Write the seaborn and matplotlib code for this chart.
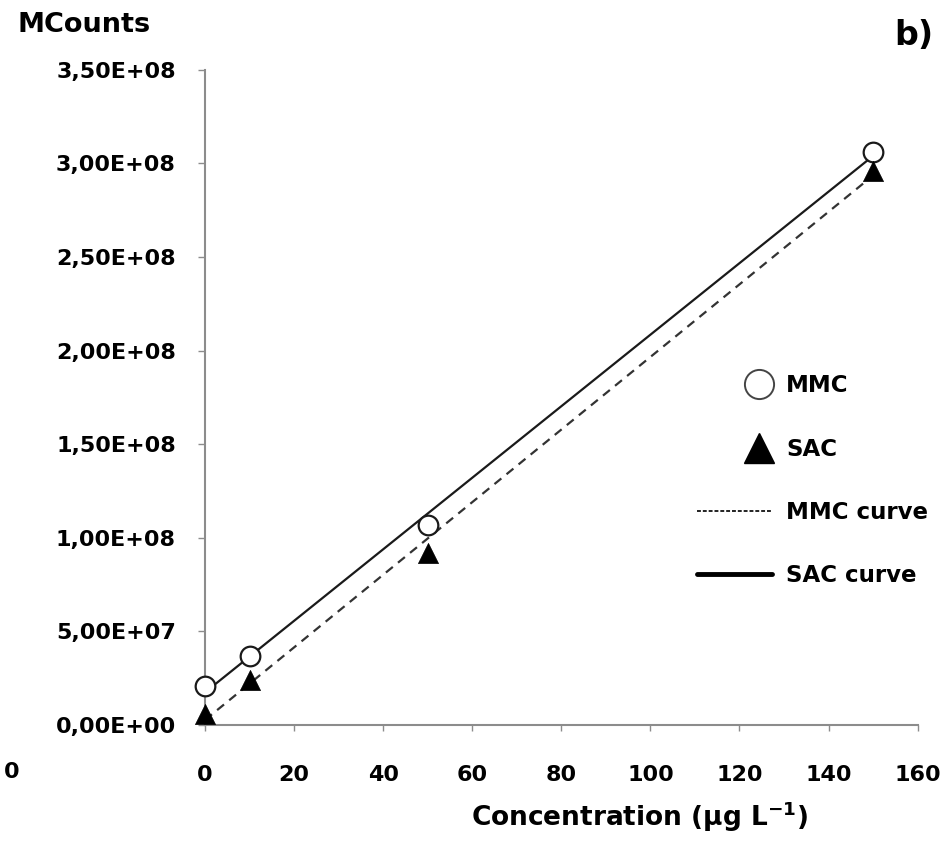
import numpy as np
import pandas as pd
import seaborn as sns
import matplotlib.pyplot as plt
from matplotlib.lines import Line2D
from matplotlib.legend_handler import HandlerLine2D
from matplotlib.ticker import FuncFormatter

# calibration data
conc = [0, 10, 50, 150]
mmc_counts = [2.1e7, 3.7e7, 1.07e8, 3.06e8]
sac_counts = [6.0e6, 2.4e7, 9.2e7, 2.96e8]

x_ticks = [0, 20, 40, 60, 80, 100, 120, 140, 160]
y_ticks = [0, 5e7, 1e8, 1.5e8, 2e8, 2.5e8, 3e8, 3.5e8]

df = pd.DataFrame({"conc": conc, "MMC": mmc_counts, "SAC": sac_counts})

sns.set_style("white")
plt.rcParams['font.family'] = ['DejaVu Sans']
plt.rcParams['font.weight'] = 'bold'
plt.rcParams['mathtext.default'] = 'bf'
plt.rcParams['text.color'] = 'black'
plt.rcParams['axes.labelcolor'] = 'black'
plt.rcParams['xtick.color'] = 'black'
plt.rcParams['ytick.color'] = 'black'

axis_grey = "#8c8c8c"


class MarkerRight(HandlerLine2D):
    # put single markers at the right end of the handle, like the original
    def get_xdata(self, legend, xdescent, ydescent, width, height, fontsize):
        x = -xdescent + width - 0.6 * fontsize
        return [x], [x]


fig = plt.figure(figsize=(9.45, 8.42), dpi=100)
ax = fig.add_axes([0.217, 0.139, 0.754, 0.778])

# fitted lines
sns.regplot(data=df, x="conc", y="MMC", ax=ax, ci=None, scatter=False, truncate=True,
            line_kws=dict(color="#1a1a1a", lw=1.6, ls="-"))
sns.regplot(data=df, x="conc", y="SAC", ax=ax, ci=None, scatter=False, truncate=True,
            line_kws=dict(color="#333333", lw=1.6, ls=(0, (4, 3))))

# data points
sns.scatterplot(data=df, x="conc", y="MMC", ax=ax, marker="o", s=200,
                facecolor="white", edgecolor="#1a1a1a", linewidth=1.6, zorder=5, clip_on=False)
sns.scatterplot(data=df, x="conc", y="SAC", ax=ax, marker="^", s=210,
                color="black", edgecolor="black", linewidth=0.5, zorder=6, clip_on=False)

ax.set_xlim(0, 160)
ax.set_ylim(0, 3.5e8)
ax.set_xticks(x_ticks)
ax.set_yticks(y_ticks)
ax.yaxis.set_major_formatter(FuncFormatter(
    lambda v, p: ("%.2E" % v).replace(".", ",")))

for s in ["top", "right"]:
    ax.spines[s].set_visible(False)
for s in ["left", "bottom"]:
    ax.spines[s].set_color(axis_grey)
    ax.spines[s].set_linewidth(1.5)

ax.tick_params(axis="x", bottom=True, direction="out", length=4, width=1, color=axis_grey,
               labelcolor="black", pad=25, labelsize=16)
ax.tick_params(axis="y", left=True, direction="out", length=5, width=1, color=axis_grey,
               labelcolor="black", pad=16, labelsize=16)
for lab in ax.get_xticklabels() + ax.get_yticklabels():
    lab.set_fontweight("bold")

ax.set_ylabel("")
ax.set_xlabel(r"Concentration (µg L$^{\mathbf{-1}}$)", fontsize=19, fontweight="bold",
              x=0.61, labelpad=10, color="black")

# legend
handles = [
    Line2D([], [], ls="none", marker="o", ms=21, mfc="white", mec="#444444", mew=1.4),
    Line2D([], [], ls="none", marker="^", ms=22, mfc="black", mec="black"),
    Line2D([], [], color="#222222", lw=1.4, ls=(0, (2, 1))),
    Line2D([], [], color="black", lw=3.5, ls="-"),
]
labels = ["MMC", "SAC", "MMC curve", "SAC curve"]
leg = ax.legend(handles, labels, loc="upper left", bbox_to_anchor=(0.69, 0.535),
                frameon=False, fontsize=16.5, handlelength=3.3, handletextpad=0.6,
                labelspacing=1.75, borderpad=0, borderaxespad=0,
                handler_map={handles[0]: MarkerRight(), handles[1]: MarkerRight()})
for t in leg.get_texts():
    t.set_fontweight("bold")
    t.set_color("black")

fig.text(0.019, 0.970, "MCounts", fontsize=19.5, fontweight="bold", va="center", ha="left")
fig.text(0.988, 0.958, "b)", fontsize=24, fontweight="bold", va="center", ha="right")
fig.text(0.004, 0.083, "0", fontsize=16, fontweight="bold", va="center", ha="left")

fig.savefig("out.png", dpi=100)
